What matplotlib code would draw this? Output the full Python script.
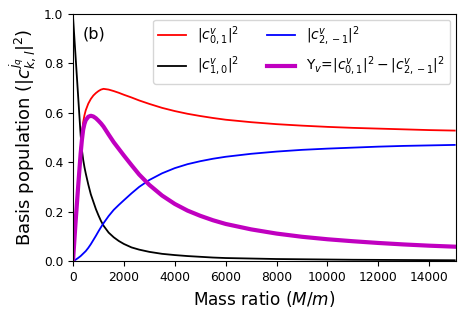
import numpy as np
import matplotlib
matplotlib.use("Agg")
import matplotlib.pyplot as plt

# Mass ratio sample points
mass = [0, 100, 200, 300, 350, 400, 450, 500, 600, 700, 800, 900, 1000, 1100,
        1200, 1400, 1600, 1800, 2000, 2300, 2600, 3000, 3500, 4000, 4500, 5000,
        5500, 6000, 7000, 8000, 9000, 10000, 11000, 12000, 13000, 14000, 15000]

# |c^v_{0,1}|^2 (red)
red = [0.0, 0.16, 0.31, 0.455, 0.515, 0.562, 0.59, 0.61, 0.637, 0.656, 0.670,
       0.680, 0.688, 0.694, 0.697, 0.694, 0.688, 0.681, 0.673, 0.662, 0.650,
       0.636, 0.620, 0.607, 0.596, 0.587, 0.579, 0.572, 0.562, 0.554, 0.548,
       0.543, 0.539, 0.536, 0.533, 0.530, 0.528]

# |c^v_{1,0}|^2 (black)
black = [0.99, 0.83, 0.67, 0.51, 0.45, 0.41, 0.38, 0.355, 0.31, 0.27, 0.24,
         0.21, 0.185, 0.162, 0.143, 0.115, 0.096, 0.081, 0.069, 0.055, 0.046,
         0.037, 0.029, 0.024, 0.020, 0.017, 0.014, 0.012, 0.010, 0.008, 0.007,
         0.006, 0.005, 0.0045, 0.004, 0.0035, 0.003]

# |c^v_{2,-1}|^2 (blue)
blue = [0.0, 0.005, 0.012, 0.02, 0.025, 0.03, 0.035, 0.04, 0.053, 0.068, 0.085,
        0.102, 0.12, 0.137, 0.153, 0.182, 0.207, 0.227, 0.246, 0.274, 0.300,
        0.328, 0.355, 0.376, 0.392, 0.404, 0.414, 0.422, 0.434, 0.443, 0.450,
        0.455, 0.459, 0.463, 0.466, 0.468, 0.470]

# Y_v = |c_{0,1}|^2 - |c_{2,-1}|^2 (magenta)
yv = [r - b for r, b in zip(red, blue)]

fig = plt.figure(figsize=(4.64, 3.19), dpi=100)
ax = fig.add_axes([73/464, 1 - 261/319, (456-73)/464, (261-14)/319])

ax.plot(mass, red, color='red', lw=1.3, label=r'$|c^{v}_{0,1}|^2$')
ax.plot(mass, black, color='black', lw=1.3, label=r'$|c^{v}_{1,0}|^2$')
ax.plot(mass, blue, color='blue', lw=1.3, label=r'$|c^{v}_{2,-1}|^2$')
ax.plot(mass, yv, color='#c000c0', lw=3, label=r'Y$_v$=$|c^{v}_{0,1}|^2-|c^{v}_{2,-1}|^2$')

ax.set_xlim(0, 15050)
ax.set_ylim(0, 1.0)
ax.set_xticks(np.arange(0, 15000, 2000))
ax.set_yticks(np.arange(0, 1.01, 0.2))
ax.tick_params(labelsize=8.8)
ax.set_xlabel(r'Mass ratio ($M/m$)', fontsize=12.2)
ax.set_ylabel(r'Basis population ($|c^{j_q}_{k,l}|^2$)', fontsize=13)
ax.text(0.025, 0.948, '(b)', transform=ax.transAxes, fontsize=11.5, va='top')
ax.legend(ncol=2, loc='upper right', fontsize=10, borderaxespad=0.4)

fig.savefig('out.png', dpi=100)
